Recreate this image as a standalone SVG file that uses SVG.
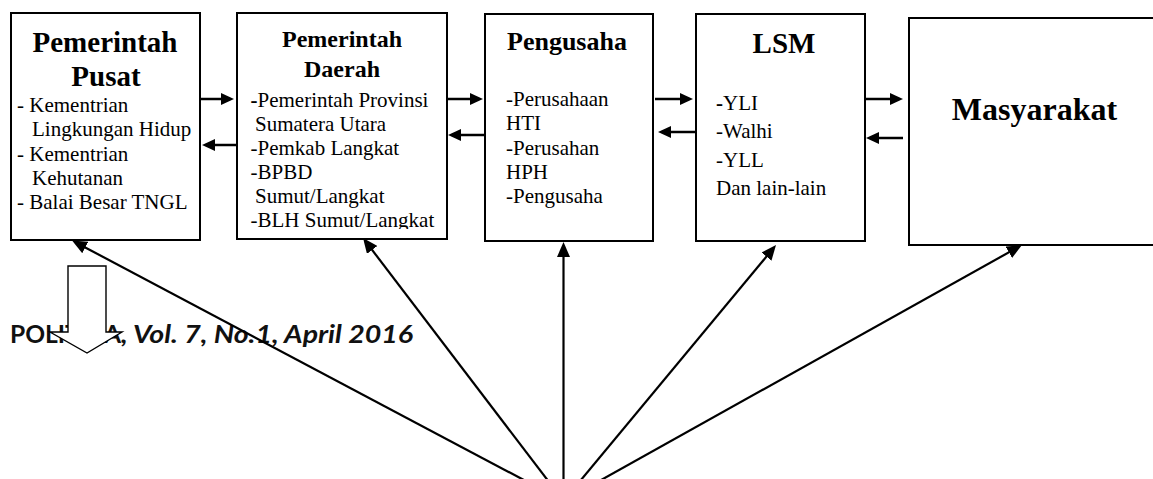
<svg xmlns="http://www.w3.org/2000/svg" width="1153" height="479" viewBox="0 0 1153 479">
<style>
.box{fill:#fff;stroke:#000;stroke-width:2}
.t{font-family:"Liberation Serif","Times New Roman",serif;fill:#000}
.ti{font-size:21px}
.b{font-weight:bold}
.hd{font-family:Lato,"Liberation Sans",sans-serif;font-weight:bold;font-size:24px;fill:#111}
.h{stroke:#000;stroke-width:2.5;fill:none;marker-end:url(#ah)}
.f{stroke:#000;stroke-width:2.2;fill:none;marker-end:url(#fh)}
</style>
<defs>
<marker id="ah" markerUnits="userSpaceOnUse" markerWidth="13" markerHeight="12" refX="6" refY="6" orient="auto"><path d="M0,0 L13,6 L0,12 z" fill="#000"/></marker>
<marker id="fh" markerUnits="userSpaceOnUse" markerWidth="15" markerHeight="13" refX="7" refY="6.5" orient="auto"><path d="M0,0 L15,6.5 L0,13 z" fill="#000"/></marker>
<clipPath id="c2"><rect x="237" y="13" width="210" height="216"/></clipPath>
</defs>

<g id="header">
<text class="hd" x="10" y="343" textLength="111" lengthAdjust="spacingAndGlyphs">POLITIKA</text>
<text class="hd" x="121" y="343" font-style="italic" textLength="292" lengthAdjust="spacingAndGlyphs">, Vol. 7, No.1, April 2016</text>
</g>

<g id="connectors">
<line class="h" x1="197" y1="99" x2="227" y2="99"/>
<line class="h" x1="239" y1="145" x2="209" y2="145"/>
<line class="h" x1="447" y1="99" x2="476" y2="99"/>
<line class="h" x1="485" y1="135" x2="455" y2="135"/>
<line class="h" x1="655" y1="99" x2="686" y2="99"/>
<line class="h" x1="695" y1="132" x2="665" y2="132"/>
<line class="h" x1="865" y1="99" x2="896" y2="99"/>
<line class="h" x1="903" y1="138" x2="873" y2="138"/>
<line class="f" x1="563.5" y1="501" x2="79.1" y2="244.2"/>
<line class="f" x1="563.5" y1="501" x2="367.9" y2="244.4"/>
<line class="f" x1="563.5" y1="501" x2="563.5" y2="250"/>
<line class="f" x1="563.5" y1="501" x2="770.9" y2="251.2"/>
<line class="f" x1="563.5" y1="501" x2="1015" y2="248.9"/>
</g>

<g id="pemerintah-pusat">
<rect class="box" x="11" y="13" width="189" height="227"/>
<text class="t b" x="105" y="52" font-size="29" text-anchor="middle">Pemerintah</text>
<text class="t b" x="106" y="86" font-size="29" text-anchor="middle">Pusat</text>
<text class="t ti" x="17" y="111.5">- Kementrian</text>
<text class="t ti" x="32" y="136">Lingkungan Hidup</text>
<text class="t ti" x="17" y="160.5">- Kementrian</text>
<text class="t ti" x="32" y="185">Kehutanan</text>
<text class="t ti" x="17" y="209">- Balai Besar TNGL</text>
</g>

<g id="pemerintah-daerah">
<rect class="box" x="237" y="13" width="210" height="226"/>
<text class="t b" x="342" y="47" font-size="24" text-anchor="middle">Pemerintah</text>
<text class="t b" x="342" y="77" font-size="24" text-anchor="middle">Daerah</text>
<g clip-path="url(#c2)">
<text class="t ti" x="250.5" y="107"><tspan class="b">-</tspan>Pemerintah Provinsi</text>
<text class="t ti" x="255" y="130.5">Sumatera Utara</text>
<text class="t ti" x="250.5" y="155">-Pemkab Langkat</text>
<text class="t ti" x="250.5" y="179">-BPBD</text>
<text class="t ti" x="255" y="203">Sumut/Langkat</text>
<text class="t ti" x="250.5" y="227">-BLH Sumut/Langkat</text>
</g>
</g>

<g id="pengusaha">
<rect class="box" x="485" y="14" width="168" height="227"/>
<text class="t b" x="567" y="50" font-size="26" text-anchor="middle">Pengusaha</text>
<text class="t ti" x="506" y="106">-Perusahaan</text>
<text class="t ti" x="506" y="130">HTI</text>
<text class="t ti" x="506" y="154.5">-Perusahan</text>
<text class="t ti" x="506" y="179">HPH</text>
<text class="t ti" x="506" y="203">-Pengusaha</text>
</g>

<g id="lsm">
<rect class="box" x="696" y="14" width="169" height="227"/>
<text class="t b" x="784" y="53" font-size="29" text-anchor="middle">LSM</text>
<text class="t ti" x="716" y="110"><tspan class="b">-</tspan>YLI</text>
<text class="t ti" x="716" y="137.5">-Walhi</text>
<text class="t ti" x="716" y="166.5">-YLL</text>
<text class="t ti" x="716" y="195">Dan lain-lain</text>
</g>

<g id="masyarakat">
<rect class="box" x="909" y="18" width="260" height="227"/>
<text class="t b" x="1034.5" y="120" font-size="32" text-anchor="middle">Masyarakat</text>
</g>

<g id="block-arrow">
<path d="M68,266 L106,266 L106,332 L122,332 L87,353 L50,332 L68,332 Z" fill="#fff" stroke="#000" stroke-width="1.4"/>
</g>
</svg>
